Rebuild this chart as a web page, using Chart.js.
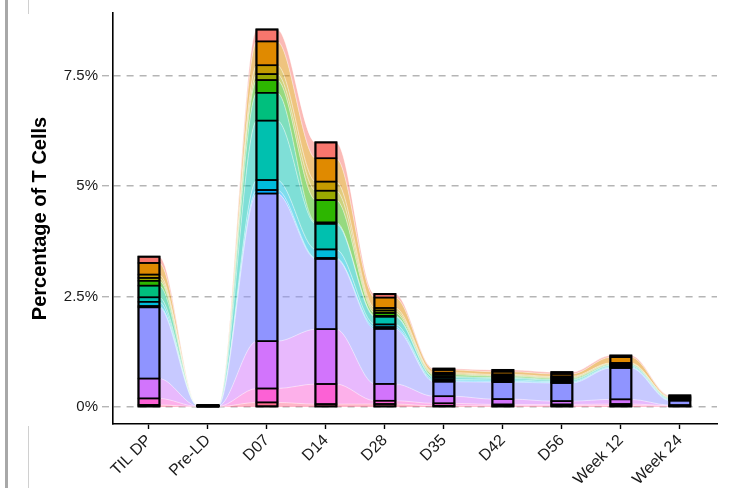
<!DOCTYPE html>
<html>
<head>
<meta charset="utf-8">
<title>T cell clones over time</title>
<script src="https://cdn.jsdelivr.net/npm/chart.js@4.4.1/dist/chart.umd.min.js"></script>
<style>
  html, body { margin: 0; padding: 0; background: #fff; }
  #wrap { position: relative; width: 729px; height: 488px; overflow: hidden; }
  .rule { position: absolute; }
</style>
</head>
<body>
<div id="wrap">
  <canvas id="chart" width="729" height="488"></canvas>
  <div class="rule" style="left:5px;top:0;width:3px;height:488px;background:#a8a8a8"></div>
  <div class="rule" style="left:28px;top:0;width:1px;height:14px;background:#d0d0d0"></div>
  <div class="rule" style="left:28px;top:426px;width:1px;height:62px;background:#d0d0d0"></div>
</div>
<script>
const timepoints = ['TIL DP', 'Pre-LD', 'D07', 'D14', 'D28', 'D35', 'D42', 'D56', 'Week 12', 'Week 24'];
const yTickValues = [0, 2.5, 5, 7.5];
const yTickLabels = ['0%', '2.5%', '5%', '7.5%'];

// clone frequency (% of T cells) per timepoint, bottom of the stack first
const cloneRose       = [0.05,  0.01,  0.106, 0.068, 0.07,  0.03,  0.03,  0.03,  0.035, 0.02];
const clonePink       = [0.146, 0.005, 0.315, 0.455, 0.075, 0.055, 0.03,  0.03,  0.035, 0.015];
const cloneViolet     = [0.45,  0.005, 1.07,  1.24,  0.38,  0.16,  0.12,  0.075, 0.105, 0.01];
const clonePeriwinkle = [1.61,  0.005, 3.34,  1.59,  1.245, 0.33,  0.385, 0.41,  0.71,  0.1];
const cloneSky        = [0.03,  0.002, 0.08,  0.02,  0.04,  0.02,  0.02,  0.015, 0.01,  0.012];
const cloneCyan       = [0.097, 0.002, 0.225, 0.194, 0.06,  0.03,  0.03,  0.02,  0.02,  0.012];
const cloneTeal       = [0.1,   0.002, 1.345, 0.58,  0.175, 0.04,  0.035, 0.03,  0.025, 0.015];
const cloneJade       = [0.265, 0.002, 0.63,  0.03,  0.02,  0.025, 0.02,  0.02,  0.01,  0.012];
const cloneGreen      = [0.11,  0.002, 0.286, 0.505, 0.065, 0.04,  0.03,  0.025, 0.02,  0.012];
const cloneOlive      = [0.065, 0.002, 0.135, 0.214, 0.056, 0.025, 0.02,  0.02,  0.015, 0.01];
const cloneGold       = [0.075, 0.002, 0.2,   0.205, 0.056, 0.025, 0.02,  0.02,  0.015, 0.01];
const cloneOrange     = [0.263, 0.002, 0.54,  0.527, 0.236, 0.06,  0.06,  0.055, 0.13,  0.018];
const cloneSalmon     = [0.142, 0.002, 0.27,  0.36,  0.079, 0.03,  0.04,  0.04,  0.036, 0.018];

const clones = [cloneRose, clonePink, cloneViolet, clonePeriwinkle, cloneSky, cloneCyan, cloneTeal,
                cloneJade, cloneGreen, cloneOlive, cloneGold, cloneOrange, cloneSalmon];
const cloneColors = ['#FF6C91', '#FC61D5', '#D274FC', '#8F94FF', '#00A9FF', '#00BBDB', '#00C0AF',
                     '#00BF7D', '#2DB600', '#99A800', '#C49A00', '#E08A00', '#F8766D'];

const FLOW_HALF = 0.17; // flows run flat behind each bar, then curve to the next one

function fade(hex, a) {
  const n = parseInt(hex.slice(1), 16);
  return `rgba(${n >> 16}, ${(n >> 8) & 255}, ${n & 255}, ${a})`;
}

const flowSets = clones.map((vals, k) => ({
  type: 'line',
  data: vals.flatMap((v, i) => [{ x: i - FLOW_HALF, y: v }, { x: i + FLOW_HALF, y: v }]),
  stack: 'flows',
  order: 2,
  fill: k === 0 ? 'origin' : '-1',
  backgroundColor: fade(cloneColors[k], 0.5),
  borderColor: 'rgba(255,255,255,0.45)',
  borderWidth: 1,
  pointRadius: 0,
  cubicInterpolationMode: 'monotone',
}));

const barSets = clones.map((vals, k) => ({
  type: 'bar',
  data: vals.map((v, i) => ({ x: i, y: v })),
  stack: 'bars',
  order: 1,
  backgroundColor: cloneColors[k],
  borderWidth: 0,
  inflateAmount: 0,
  barThickness: 21,
}));

// ggplot-style outlines: strokes centred on each segment edge, heavier round the whole bar
const barOutline = {
  id: 'barOutline',
  afterDatasetsDraw(chart) {
    const metas = chart.getSortedVisibleDatasetMetas().filter(m => m.type === 'bar');
    const ctx = chart.ctx;
    ctx.save();
    ctx.strokeStyle = '#000';
    ctx.lineWidth = 1.5;
    metas.forEach(m => m.data.forEach(el => {
      ctx.strokeRect(el.x - el.width / 2, Math.min(el.y, el.base), el.width, Math.abs(el.base - el.y));
    }));
    const first = metas[0], last = metas[metas.length - 1];
    ctx.lineWidth = 2;
    first.data.forEach((el, i) => {
      const top = last.data[i];
      ctx.strokeRect(el.x - el.width / 2, top.y, el.width, el.base - top.y);
    });
    ctx.restore();
  },
};

Chart.defaults.font.family = '"Liberation Sans", Arial, sans-serif';

new Chart(document.getElementById('chart'), {
  data: { datasets: [...flowSets, ...barSets] },
  plugins: [barOutline],
  options: {
    responsive: false,
    animation: false,
    layout: { padding: { top: 5, right: 12, left: 0, bottom: 0 } },
    plugins: { legend: { display: false }, tooltip: { enabled: false } },
    scales: {
      x: {
        type: 'linear',
        stacked: true,
        offset: false,
        min: -0.61,
        max: 9.63,
        afterBuildTicks: s => { s.ticks = timepoints.map((t, i) => ({ value: i })); },
        afterFit: s => { s.height = 64; },
        ticks: {
          callback: (v, i) => timepoints[i],
          autoSkip: false,
          minRotation: 45,
          maxRotation: 45,
          color: '#1a1a1a',
          font: { size: 16 },
          padding: 2,
        },
        grid: { display: true, offset: false, drawOnChartArea: false, drawTicks: true, tickLength: 5, tickColor: '#000', tickWidth: 1.4 },
        border: { display: true, color: '#000', width: 1.6 },
      },
      y: {
        stacked: true,
        min: -0.382,
        max: 8.915,
        afterBuildTicks: s => { s.ticks = yTickValues.map(v => ({ value: v })); },
        afterFit: s => { s.width = 113; },
        ticks: {
          callback: (v, i) => yTickLabels[i],
          color: '#1a1a1a',
          font: { size: 15 },
          padding: 4,
        },
        grid: {
          color: '#b5b5b5', lineWidth: 1.4,
          tickColor: '#b5b5b5', tickWidth: 1.4, tickLength: 11, tickBorderDash: [7, 6],
        },
        border: { display: true, color: '#000', width: 1.6, dash: [7, 6] },
        title: {
          display: true,
          text: 'Percentage of T Cells',
          color: '#000',
          font: { size: 20, weight: 'bold' },
          padding: { top: 28, bottom: 0 },
        },
      },
    },
  },
});
</script>
</body>
</html>
